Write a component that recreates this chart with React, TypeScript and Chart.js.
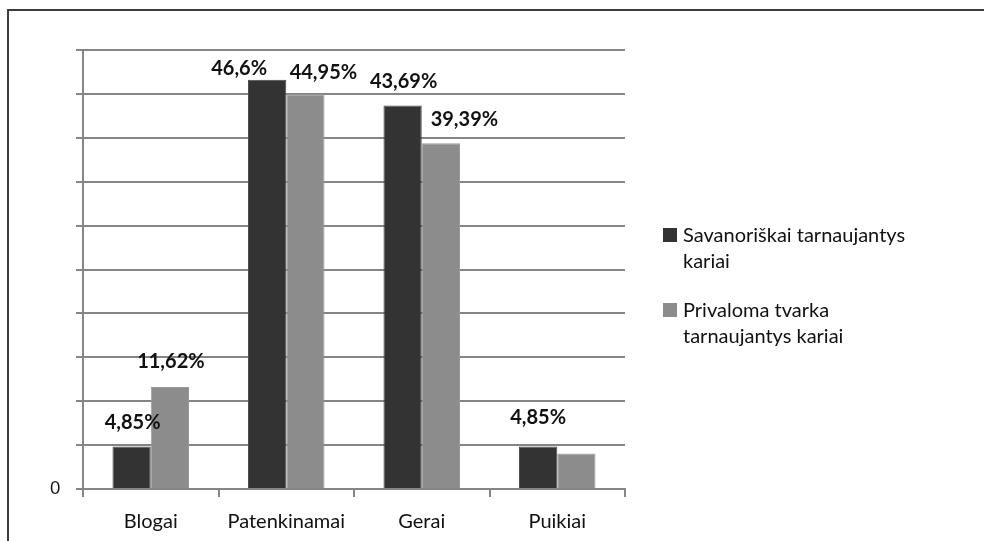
import React, { useEffect, useRef } from "react";
import { Chart, registerables } from "chart.js";

Chart.register(...registerables);

const categories = ["Blogai", "Patenkinamai", "Gerai", "Puikiai"];
const seriesNames = [
  "Savanoriškai tarnaujantys kariai",
  "Privaloma tvarka tarnaujantys kariai",
];
const volunteerValues = [4.85, 46.6, 43.69, 4.85];
const mandatoryValues = [11.62, 44.95, 39.39, 4.04];
const volunteerLabels = ["4,85%", "46,6%", "43,69%", "4,85%"];
const mandatoryLabels = ["11,62%", "44,95%", "39,39%", ""];
const yMin = 0;
const yMax = 50;
const yStep = 5;
const yTickLabels: Record<number, string> = { 0: "0" };

const DARK = "#333333";
const LIGHT = "#8c8c8c";
const GRID = "#858585";
const FONT = "Lato, 'Open Sans', sans-serif";

function wrapText(ctx: CanvasRenderingContext2D, text: string, maxW: number) {
  const words = text.split(" ");
  const lines: string[] = [];
  let cur = "";
  for (const w of words) {
    const t = cur ? cur + " " + w : w;
    if (ctx.measureText(t).width > maxW && cur) {
      lines.push(cur);
      cur = w;
    } else cur = t;
  }
  if (cur) lines.push(cur);
  return lines;
}

const framePlugin = {
  id: "frame",
  beforeDraw(chart: any) {
    const { ctx, width, height } = chart;
    ctx.save();
    ctx.fillStyle = "#ffffff";
    ctx.fillRect(0, 0, width, height);
    ctx.fillStyle = "#3c3c3c";
    ctx.fillRect(7, 9, width - 7, 2);
    ctx.fillRect(7, 9, 2, height - 9);
    ctx.restore();
  },
};

const labelOffsets = [
  [[1, -24], [-28, -11], [1, -24], [0, -29]],
  [[1, -25], [18, -21.5], [23.5, -24], [0, 0]],
];

const dataLabelPlugin = {
  id: "valueLabels",
  afterDatasetsDraw(chart: any) {
    const { ctx } = chart;
    const texts = [volunteerLabels, mandatoryLabels];
    ctx.save();
    ctx.font = `bold 20px ${FONT}`;
    ctx.fillStyle = "#111111";
    ctx.textAlign = "center";
    ctx.textBaseline = "middle";
    chart.data.datasets.forEach((_: any, di: number) => {
      const meta = chart.getDatasetMeta(di);
      meta.data.forEach((bar: any, i: number) => {
        const txt = texts[di][i];
        if (!txt) return;
        const [dx, dy] = labelOffsets[di][i];
        ctx.fillText(txt, bar.x + dx, bar.y + dy);
      });
    });
    ctx.restore();
  },
};

const legendPlugin = {
  id: "sideLegend",
  afterDraw(chart: any) {
    const { ctx, chartArea } = chart;
    const colors = [DARK, LIGHT];
    const x0 = chartArea.right + 38;
    const lineH = 25.7;
    let y = 235;
    ctx.save();
    ctx.font = `20px ${FONT}`;
    ctx.textBaseline = "middle";
    ctx.textAlign = "left";
    seriesNames.forEach((name, i) => {
      ctx.fillStyle = colors[i];
      ctx.fillRect(x0, y - 7, 14, 14);
      ctx.fillStyle = "#111111";
      const lines = wrapText(ctx, name, 236);
      lines.forEach((ln, k) => {
        ctx.fillText(ln, x0 + 20, y + 1 + k * lineH);
      });
      y += 75;
    });
    ctx.restore();
  },
};

export default function App() {
  const ref = useRef<HTMLCanvasElement | null>(null);
  useEffect(() => {
    if (!ref.current) return;
    const chart = new Chart(ref.current, {
      type: "bar",
      data: {
        labels: categories,
        datasets: [
          {
            label: seriesNames[0],
            data: volunteerValues,
            backgroundColor: DARK,
            borderColor: "#4a4a4a",
            borderWidth: 1,
            barPercentage: 1,
            categoryPercentage: 0.565,
          },
          {
            label: seriesNames[1],
            data: mandatoryValues,
            backgroundColor: LIGHT,
            borderColor: "#9a9a9a",
            borderWidth: 1,
            barPercentage: 1,
            categoryPercentage: 0.565,
          },
        ],
      },
      options: {
        responsive: false,
        animation: false,
        devicePixelRatio: 1,
        layout: { padding: { left: 0, top: 50, right: 359, bottom: 0 } },
        plugins: {
          legend: { display: false },
          tooltip: { enabled: false },
        },
        scales: {
          x: {
            grid: {
              drawOnChartArea: false,
              drawTicks: true,
              tickLength: 8,
              color: GRID,
              lineWidth: 2,
              offset: true,
            },
            border: { color: GRID, width: 2 },
            ticks: {
              color: "#111111",
              font: { family: FONT, size: 20 },
              padding: 13,
              maxRotation: 0,
            },
            afterFit(scale: any) {
              scale.height = 52;
            },
          },
          y: {
            min: yMin,
            max: yMax,
            grid: {
              color: GRID,
              lineWidth: 2,
              tickLength: 7,
              drawTicks: true,
            },
            border: { color: GRID, width: 2 },
            ticks: {
              stepSize: yStep,
              color: "#111111",
              font: { family: FONT, size: 17 },
              padding: 16,
              callback: (v: any) => yTickLabels[v as number] ?? "",
            },
            afterFit(scale: any) {
              scale.width = 83;
            },
          },
        },
      },
      plugins: [framePlugin, dataLabelPlugin, legendPlugin],
    });
    return () => chart.destroy();
  }, []);
  return (
    <div style={{ position: "fixed", left: 0, top: 0, width: 984, height: 541 }}>
      <canvas ref={ref} width={984} height={541} style={{ display: "block" }} />
    </div>
  );
}
